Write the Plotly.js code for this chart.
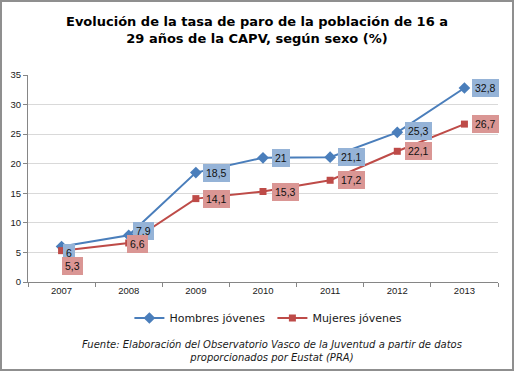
<!DOCTYPE html>
<html>
<head>
<meta charset="utf-8">
<script src="https://cdn.plot.ly/plotly-3.0.1.min.js"></script>
<style>
  html, body { margin: 0; padding: 0; background: #fff; }
  #wrap { position: relative; width: 514px; height: 371px; }
  #chart { width: 514px; height: 371px; }
  #frame { position: absolute; left: 0; top: 0; width: 510px; height: 367px; border: 2px solid #8f8f8f; pointer-events: none; }
</style>
</head>
<body>
<div id="wrap"><div id="chart"></div><div id="frame"></div></div>
<script>
// Data
const years = ['2007', '2008', '2009', '2010', '2011', '2012', '2013'];
const hombres = [6, 7.9, 18.5, 21, 21.1, 25.3, 32.8];
const mujeres = [5.3, 6.6, 14.1, 15.3, 17.2, 22.1, 26.7];
const hombresLabels = ['6', '7,9', '18,5', '21', '21,1', '25,3', '32,8'];
const mujeresLabels = ['5,3', '6,6', '14,1', '15,3', '17,2', '22,1', '26,7'];

// Label placement (pixel offsets from the point)
const hShiftX = [1, 4, 7, 9, 8, 8, 8];
const hShiftY = [-6, 4, 0, 0, 0, 1, 0];
const mShiftX = [0, -2, 7, 9, 8, 8, 8];
const mShiftY = [-15, -1, 0, 0, 0, 0, 0];

const blue = '#4A7EBB', red = '#BE4B48';
const blueBox = '#95B3D7', redBox = '#DA9694';

const traces = [
  { x: years, y: hombres, name: 'Hombres jóvenes', type: 'scatter', mode: 'lines+markers',
    line: { color: blue, width: 2 }, marker: { symbol: 'diamond', size: 9, color: blue } },
  { x: years, y: mujeres, name: 'Mujeres jóvenes', type: 'scatter', mode: 'lines+markers',
    line: { color: red, width: 2 }, marker: { symbol: 'square', size: 7, color: red } }
];

const annotations = [];
function addLabels(vals, labels, sx, sy, bg) {
  vals.forEach((v, i) => {
    annotations.push({
      x: i, y: v, xref: 'x', yref: 'y', text: labels[i], showarrow: false,
      xanchor: 'left', yanchor: 'middle', xshift: sx[i], yshift: sy[i],
      bgcolor: bg, borderpad: 3, borderwidth: 0,
      font: { family: 'Liberation Sans, Arial, sans-serif', size: 10.5, color: '#111' }
    });
  });
}
addLabels(hombres, hombresLabels, hShiftX, hShiftY, blueBox);
addLabels(mujeres, mujeresLabels, mShiftX, mShiftY, redBox);

annotations.push({
  xref: 'paper', yref: 'paper', x: 0.519, y: -0.333, xanchor: 'center', yanchor: 'middle',
  showarrow: false, align: 'center',
  text: '<i>Fuente: Elaboración del Observatorio Vasco de la Juventud a partir de datos<br>proporcionados por Eustat (PRA)</i>',
  font: { family: 'DejaVu Sans, Verdana, sans-serif', size: 10, color: '#1a1a1a' }
});

const layout = {
  width: 514, height: 371,
  margin: { l: 28, r: 16, t: 75, b: 89 },
  paper_bgcolor: '#ffffff', plot_bgcolor: '#ffffff',
  title: {
    text: '<b>Evolución de la tasa de paro de la población de 16 a<br>29 años de la CAPV, según sexo (%)</b>',
    font: { family: 'DejaVu Sans, Verdana, sans-serif', size: 13, color: '#000' },
    x: 0.5, xanchor: 'center', y: 1 - 26 / 371, yref: 'container', yanchor: 'middle'
  },
  xaxis: {
    type: 'category', range: [-0.5, 6.5], showgrid: false, showline: true, linecolor: '#868686', linewidth: 1,
    ticks: 'outside', tickson: 'boundaries', ticklen: 4, tickcolor: '#868686',
    tickfont: { family: 'Liberation Sans, Arial, sans-serif', size: 9.5, color: '#1a1a1a' },
    fixedrange: true
  },
  yaxis: {
    range: [0, 35], dtick: 5, showgrid: true, gridcolor: '#d9d9d9', gridwidth: 1,
    showline: true, linecolor: '#868686', linewidth: 1, zeroline: false,
    ticks: 'outside', ticklen: 4, tickcolor: '#868686',
    tickfont: { family: 'Liberation Sans, Arial, sans-serif', size: 9.5, color: '#1a1a1a' },
    fixedrange: true
  },
  showlegend: true,
  legend: {
    orientation: 'h', x: 0.52, xanchor: 'center', y: -0.174, yanchor: 'middle',
    font: { family: 'DejaVu Sans, Verdana, sans-serif', size: 11, color: '#1a1a1a' },
    itemwidth: 30, traceorder: 'normal', entrywidth: 98
  },
  annotations: annotations
};

Plotly.newPlot('chart', traces, layout, { displayModeBar: false, staticPlot: true });
</script>
</body>
</html>
